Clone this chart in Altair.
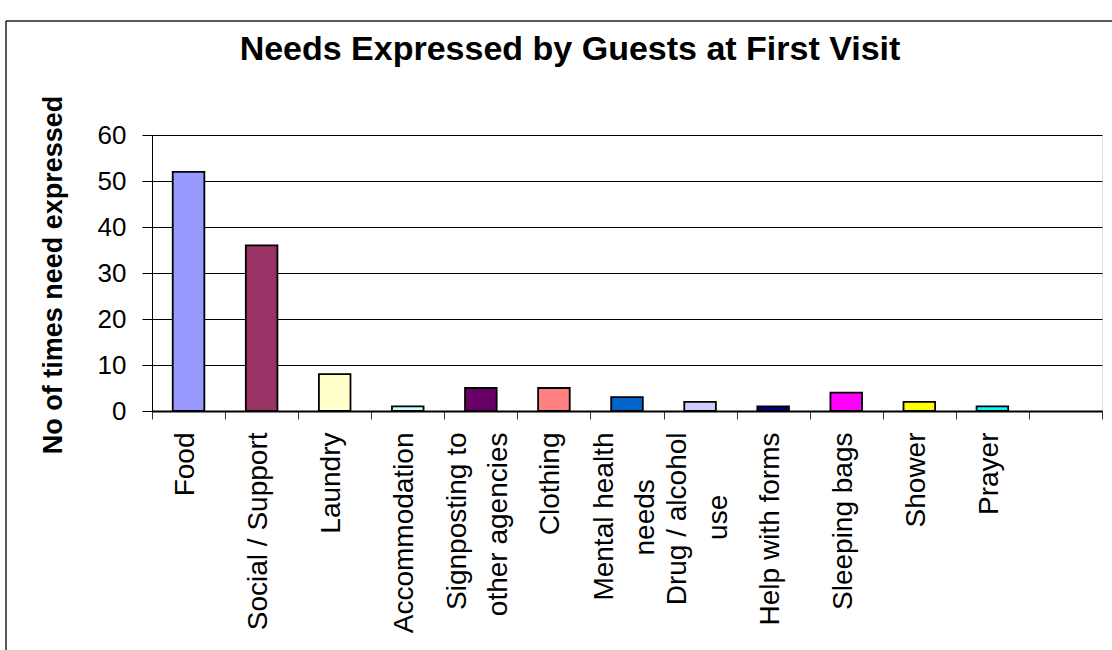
import altair as alt
import pandas as pd

categories = ["Food", "Social / Support", "Laundry", "Accommodation",
              "Signposting to other agencies", "Clothing", "Mental health needs",
              "Drug / alcohol use", "Help with forms", "Sleeping bags", "Shower", "Prayer"]
values = [52, 36, 8, 1, 5, 5, 3, 2, 1, 4, 2, 1]
colors = ["#9999FF", "#993366", "#FFFFCC", "#CCFFFF", "#660066", "#FF8080",
          "#0066CC", "#CCCCFF", "#000080", "#FF00FF", "#FFFF00", "#00FFFF"]
NB = "\u00a0"
ZW = "\u200b"
multiline_labels = {
    "Signposting to other agencies": ["Signposting to", "other agencies"],
    "Mental health needs": ["Mental health", "needs" + NB * 6 + ZW],
    "Drug / alcohol use": ["Drug / alcohol", "use" + NB * 8 + ZW],
}
y_ticks = [0, 10, 20, 30, 40, 50, 60]

domain = categories + [" "]

df = pd.DataFrame({"need": categories, "count": values})
frame_df = pd.DataFrame({"k": [0]})

# label expression giving multi-line labels
expr = "datum.label"
for name, lines in multiline_labels.items():
    arr = "[" + ", ".join("'" + l + "'" for l in lines) + "]"
    expr = f"datum.label == '{name}' ? {arr} : ({expr})"
multi_test = "indexof([" + ", ".join("'" + n + "'" for n in multiline_labels) + "], datum.value) >= 0"

FONT = "Liberation Sans"

bars = alt.Chart(df).mark_bar(stroke="black", strokeWidth=1.8, size=31.6).encode(
    x=alt.X("need:N", sort=domain,
            scale=alt.Scale(domain=domain, paddingInner=0, paddingOuter=0),
            axis=alt.Axis(title=None, labelAngle=-90, labelExpr=expr, labelFontSize=28,
                          labelFont=FONT, labelColor="black", labelLimit=600,
                          labelPadding=13, labelLineHeight=41, tickBand="extent",
                          labelOffset=alt.condition(multi_test, alt.value(-23), alt.value(-3)),
                          tickSize=8, tickColor="#333333", domainColor="black",
                          domainWidth=2, grid=False, labelOverlap=False)),
    y=alt.Y("count:Q", scale=alt.Scale(domain=[0, 60], nice=False),
            axis=alt.Axis(values=y_ticks, title="No of times need expressed",
                          titleFontSize=27, titleFontWeight="bold", titleFont=FONT,
                          titleColor="black", titleX=-91, titleY=139.5, titleAngle=-90,
                          titleAlign="center", titleBaseline="alphabetic",
                          labelFontSize=26, labelFont=FONT, labelColor="black",
                          labelPadding=16, tickSize=10, tickColor="black",
                          gridColor="black", gridWidth=1, domainColor="black")),
    color=alt.Color("need:N", scale=alt.Scale(domain=categories, range=colors), legend=None),
)

frame_top = alt.Chart(frame_df).mark_rule(color="#222222", strokeWidth=1.5).encode(
    x=alt.value(-146), x2=alt.value(1000), y=alt.value(-114))
frame_left = alt.Chart(frame_df).mark_rule(color="#222222", strokeWidth=1.5).encode(
    x=alt.value(-146), y=alt.value(-114), y2=alt.value(530))

chart = alt.layer(frame_top, frame_left, bars).properties(
    width=950, height=276,
    autosize="none",
    padding={"left": 152, "top": 135, "right": 10, "bottom": 239},
    title=alt.TitleParams(text="Needs Expressed by Guests at First Visit", fontSize=34,
                          fontWeight="bold", font=FONT, color="black", anchor="middle",
                          dx=-57, offset=0, dy=74, baseline="alphabetic"),
).configure_view(fill="#CCFFCC", stroke="#555555", strokeWidth=1.5).configure(
    background="white")

chart.save("out.html", embed_options={"renderer": "svg", "actions": False})
